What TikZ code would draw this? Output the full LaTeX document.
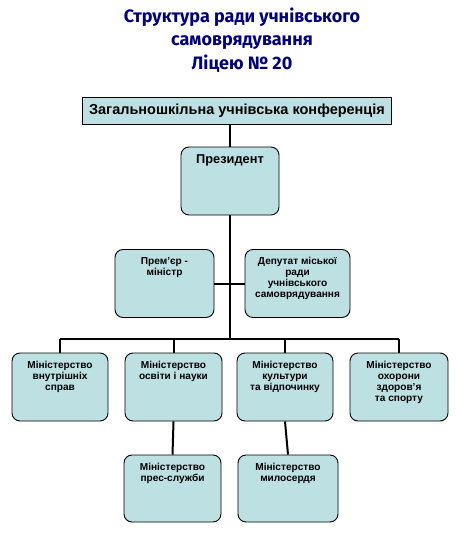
\documentclass[tikz,border=0pt]{standalone}
\usepackage{fontspec}
\setmainfont{Liberation Sans}
\newfontfamily\titlefont{Fira Sans}
\usetikzlibrary{positioning}
\definecolor{boxfill}{RGB}{189,224,226}
\definecolor{titlecol}{RGB}{0,0,128}
\tikzset{
  post/.style={draw=black, fill=boxfill, line width=0.9pt, rounded corners=8pt,
    minimum width=97pt, minimum height=68pt,
    label={[posttext]north:#1}},
  posttext/.style={anchor=north, yshift=-5pt, align=center,
    font=\bfseries\fontsize{10.1}{11}\selectfont},
  conn/.style={line width=2pt, black},
}

\begin{document}
\begin{tikzpicture}[x=1pt, y=-1pt]

  \useasboundingbox (0,0) rectangle (459,554);

  % Title.
  \node[text=titlecol, align=center, font=\titlefont\bfseries\fontsize{18}{23.5}\selectfont,
    anchor=north] (title) at (242,4)
    {Структура ради учнівського\\самоврядування\\Ліцею № 20};

  % Top level.
  \node[draw=black, fill=boxfill, line width=0.9pt, minimum width=309pt, minimum height=27pt,
    font=\bfseries\fontsize{14.5}{16}\selectfont] (conf) at (237,110.5)
    {Загальношкільна учнівська конференція};
  \node[post={\fontsize{12.8}{14}\selectfont Президент}, minimum width=98pt] (pres) at (230,181) {};

  % Second level.
  \node[post={Прем’єр -\\міністр}, minimum width=99pt] (prem) at (164.5,283.5) {};
  \node[post={Депутат міської\\ради\\учнівського\\самоврядування}, minimum width=105pt]
    (dep) at (297.5,283.5) {};

  % Ministries.
  \node[post={Міністерство\\внутрішніх\\справ}, minimum width=96pt] (mvs) at (60,387) {};
  \node[post={Міністерство\\освіти і науки}] (mon) at (173.5,387) {};
  \node[post={Міністерство\\культури\\та відпочинку}, minimum width=96pt] (mkv) at (285,387) {};
  \node[post={Міністерство\\охорони\\здоров’я\\та спорту}, minimum width=98pt] (moz) at (399,387) {};

  % Bottom level.
  \node[post={Міністерство\\прес-служби}, minimum height=67pt] (mps) at (172.5,488.5) {};
  \node[post={Міністерство\\милосердя}, minimum width=100pt, minimum height=67pt]
    (mml) at (288,488.5) {};

  % Connectors.
  \coordinate (bus) at (0,339);
  \draw[conn] (pres.north |- conf.south) -- (pres.north);
  \draw[conn] (pres.south) -- (pres.south |- bus);
  \draw[conn] (prem.east) -- (dep.west);
  \draw[conn] (mvs.north |- bus) -- (moz.north |- bus);
  \foreach \m in {mvs,mon,mkv,moz} {
    \draw[conn] (\m.north |- bus) -- (\m.north);
  }
  \draw[conn] (mon.south) -- (mps.north);
  \draw[conn] (mkv.south) -- (mml.north);

\end{tikzpicture}
\end{document}
